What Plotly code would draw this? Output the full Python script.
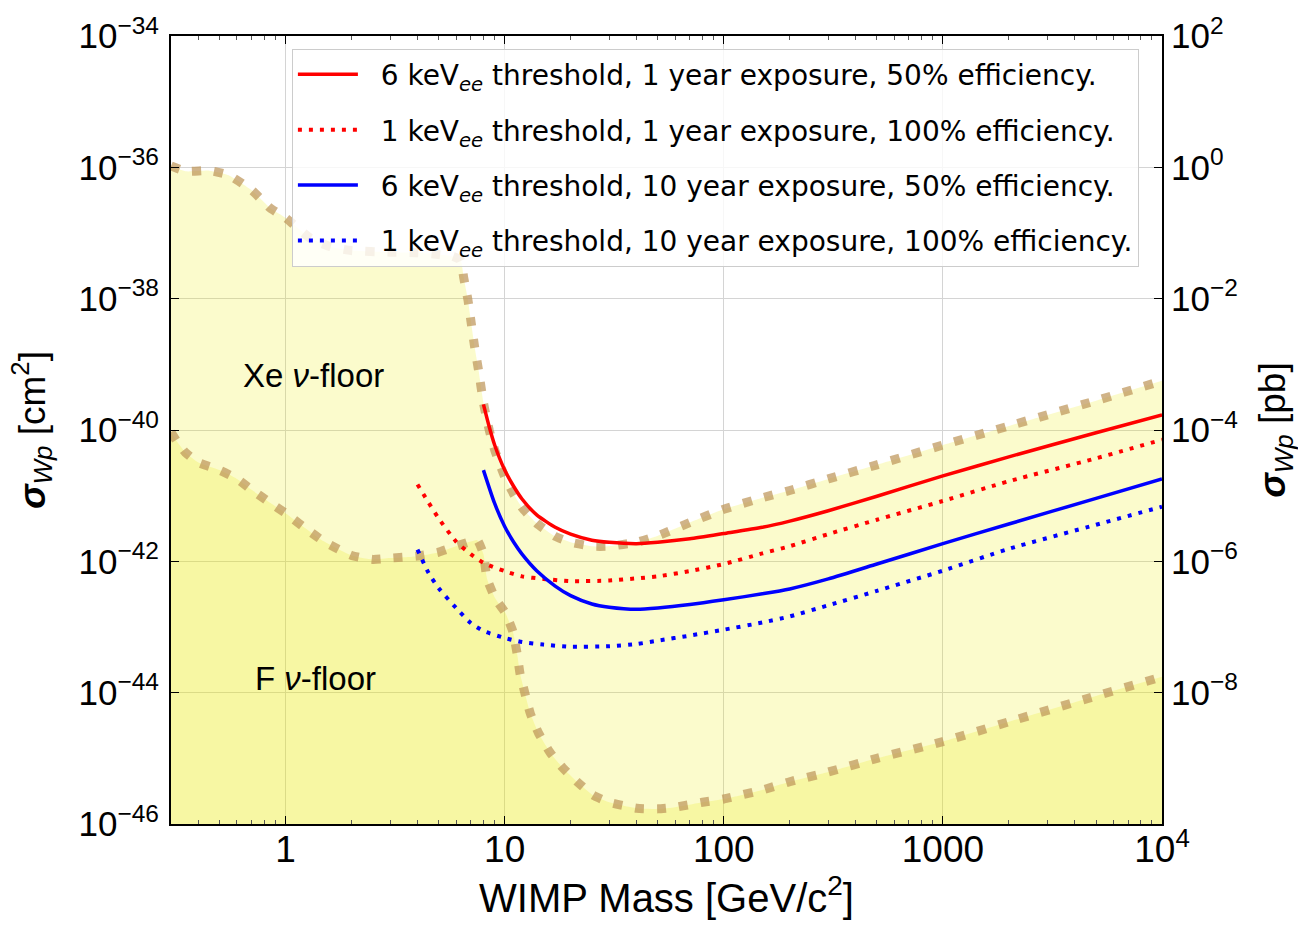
import math
import plotly.graph_objects as go

# ---------------- data (WIMP mass in GeV/c^2, cross-section in cm^2) ----------------
xe_floor_mass = [0.3, 0.35, 0.45, 0.55, 0.7, 0.85, 1, 1.3, 1.6, 2, 3, 4, 5, 5.8, 6.3, 6.5, 6.8, 7,
                 7.3, 7.6, 8, 8.5, 9, 10, 11, 12, 14, 17, 20, 25, 30, 40, 50, 70, 100, 150, 200,
                 300, 500, 1000, 2000, 5000, 10000]
xe_floor_sigma = [1.05e-36, 8.7e-37, 8.9e-37, 7.6e-37, 4.5e-37, 2.4e-37, 1.7e-37, 8.3e-38, 6.2e-38,
                  5.4e-38, 5.1e-38, 5.0e-38, 4.7e-38, 4.4e-38, 3.8e-38, 2.1e-38, 9.5e-39, 4.8e-39,
                  1.8e-39, 8.1e-40, 2.6e-40, 1.0e-40, 5.0e-41, 1.95e-41, 1.05e-41, 6.6e-42, 3.8e-42,
                  2.4e-42, 1.95e-42, 1.7e-42, 1.7e-42, 1.95e-42, 2.45e-42, 3.9e-42, 6.2e-42, 9.3e-42,
                  1.2e-41, 1.8e-41, 2.95e-41, 5.9e-41, 1.15e-40, 2.8e-40, 5.6e-40]

f_floor_mass = [0.3, 0.32, 0.35, 0.4, 0.5, 0.6, 0.7, 0.85, 1, 1.2, 1.5, 2, 2.5, 3, 4, 5, 6, 7, 7.5,
                8, 8.3, 9.05, 10.05, 10.9, 11.4, 11.75, 12.4, 13.1, 14.3, 16.1, 18.4, 21.4, 25.3,
                30, 40, 50, 60, 80, 100, 150, 200, 300, 500, 1000, 2000, 5000, 10000]
f_floor_sigma = [9.3e-41, 6.6e-41, 4.5e-41, 3.2e-41, 2.45e-41, 1.8e-41, 1.23e-41, 7.8e-42, 5.4e-42,
                 3.4e-42, 2.0e-42, 1.23e-42, 1.07e-42, 1.12e-42, 1.2e-42, 1.38e-42, 1.7e-42, 2.0e-42,
                 2.1e-42, 1.29e-42, 5.5e-43, 2.75e-43, 1.66e-43, 8.5e-44, 3.9e-44, 1.95e-44, 9.5e-45,
                 4.8e-45, 2.4e-45, 1.23e-45, 7.2e-46, 4.4e-46, 2.75e-46, 2.14e-46, 1.74e-46, 1.7e-46,
                 1.8e-46, 2.14e-46, 2.4e-46, 3.3e-46, 4.4e-46, 6.2e-46, 1.0e-45, 1.8e-45, 3.6e-45,
                 8.9e-45, 1.74e-44]

red_solid_mass = [8, 8.5, 9, 10, 11, 12, 14, 17, 20, 25, 30, 40, 50, 70, 100, 150, 200, 300, 500,
                  1000, 2000, 5000, 10000]
red_solid_sigma = [2.45e-40, 1.12e-40, 5.9e-41, 2.45e-41, 1.38e-41, 8.9e-42, 5.1e-42, 3.3e-42, 2.6e-42,
                   2.1e-42, 1.95e-42, 1.86e-42, 1.95e-42, 2.2e-42, 2.65e-42, 3.3e-42, 4.1e-42, 5.9e-42,
                   9.8e-42, 2.0e-41, 3.9e-41, 9.1e-41, 1.7e-40]

red_dot_mass = [4, 4.5, 5, 6, 7, 8, 10, 12, 15, 20, 30, 40, 50, 70, 100, 150, 200, 300, 500, 1000,
                2000, 5000, 10000]
red_dot_sigma = [1.48e-41, 7.8e-42, 4.5e-42, 2.0e-42, 1.29e-42, 9.5e-43, 7.1e-43, 5.9e-43, 5.4e-43,
                 5.0e-43, 5.1e-43, 5.5e-43, 5.9e-43, 7.1e-43, 9.1e-43, 1.32e-42, 1.7e-42, 2.6e-42,
                 4.3e-42, 8.3e-42, 1.66e-41, 3.7e-41, 7.1e-41]

blue_solid_mass = [8, 9, 10, 11, 12, 14, 17, 20, 25, 30, 40, 50, 70, 100, 150, 200, 300, 500, 1000,
                   2000, 5000, 10000]
blue_solid_sigma = [2.45e-41, 7.6e-42, 3.4e-42, 1.95e-42, 1.29e-42, 7.2e-43, 4.2e-43, 3.0e-43, 2.24e-43,
                    2.0e-43, 1.86e-43, 1.95e-43, 2.2e-43, 2.6e-43, 3.2e-43, 3.8e-43, 5.4e-43, 9.1e-43,
                    1.86e-42, 3.7e-42, 9.1e-42, 1.8e-41]

blue_dot_mass = [4, 4.5, 5, 6, 7, 8, 10, 12, 15, 20, 30, 40, 50, 70, 100, 150, 200, 300, 500, 1000,
                 2000, 5000, 10000]
blue_dot_sigma = [1.51e-42, 6.6e-43, 3.9e-43, 1.95e-43, 1.15e-43, 8.7e-44, 6.8e-44, 5.9e-44, 5.4e-44,
                  5.0e-44, 5.1e-44, 5.5e-44, 6.2e-44, 7.4e-44, 9.1e-44, 1.17e-43, 1.45e-43, 2.14e-43,
                  3.55e-43, 7.2e-43, 1.55e-42, 3.6e-42, 6.8e-42]

legend_labels = [
    "6 keV<sub><i>ee</i></sub> threshold, 1 year exposure, 50% efficiency.",
    "1 keV<sub><i>ee</i></sub> threshold, 1 year exposure, 100% efficiency.",
    "6 keV<sub><i>ee</i></sub> threshold, 10 year exposure, 50% efficiency.",
    "1 keV<sub><i>ee</i></sub> threshold, 10 year exposure, 100% efficiency.",
]

x_tick_vals = [1, 10, 100, 1000, 10000]
x_tick_text = ["1", "10", "100", "1000", "10<sup>4</sup>"]
y_tick_vals = [1e-46, 1e-44, 1e-42, 1e-40, 1e-38, 1e-36, 1e-34]
y_tick_text = ["10<sup>−46</sup>", "10<sup>−44</sup>", "10<sup>−42</sup>", "10<sup>−40</sup>",
               "10<sup>−38</sup>", "10<sup>−36</sup>", "10<sup>−34</sup>"]
y2_tick_vals = [1e-8, 1e-6, 1e-4, 1e-2, 1e0, 1e2]
y2_tick_text = ["10<sup>−8</sup>", "10<sup>−6</sup>", "10<sup>−4</sup>", "10<sup>−2</sup>",
                "10<sup>0</sup>", "10<sup>2</sup>"]

# ---------------- styles ----------------
FONT = "Liberation Sans, Arial, sans-serif"
FILL = "rgba(235,235,0,0.2)"
FLOOR_LINE = "rgba(190,150,90,0.72)"

fig = go.Figure()

# floor fills
for xs, ys in [(xe_floor_mass, xe_floor_sigma), (f_floor_mass, f_floor_sigma)]:
    fig.add_trace(go.Scatter(x=xs, y=ys, mode="lines", fill="tozeroy", fillcolor=FILL,
                             line=dict(width=0, shape="spline", smoothing=0.5),
                             showlegend=False, hoverinfo="skip"))
# floor boundaries
for xs, ys in [(xe_floor_mass, xe_floor_sigma), (f_floor_mass, f_floor_sigma)]:
    fig.add_trace(go.Scatter(x=xs, y=ys, mode="lines",
                             line=dict(color=FLOOR_LINE, width=9, dash="9px,13px",
                                       shape="spline", smoothing=0.5),
                             showlegend=False, hoverinfo="skip"))

curves = [
    (red_solid_mass, red_solid_sigma, "red", "solid", 3.5),
    (red_dot_mass, red_dot_sigma, "red", "4px,7px", 4),
    (blue_solid_mass, blue_solid_sigma, "blue", "solid", 3.5),
    (blue_dot_mass, blue_dot_sigma, "blue", "4px,7px", 4),
]
for i, (xs, ys, col, dash, w) in enumerate(curves):
    fig.add_trace(go.Scatter(x=xs, y=ys, mode="lines", name="&nbsp;&nbsp;" + legend_labels[i],
                             legendgroup=f"g{i}",
                             line=dict(color=col, width=w, dash=dash, shape="spline", smoothing=0.6)))

# empty trace to activate the right-hand axis
fig.add_trace(go.Scatter(x=[], y=[], yaxis="y2", showlegend=False, hoverinfo="skip"))

minor_x = [m * 10 ** d for d in range(-1, 4) for m in range(2, 10)]

fig.update_layout(
    width=1298, height=927,
    margin=dict(l=171, r=136, t=32, b=103),
    plot_bgcolor="white", paper_bgcolor="white",
    font=dict(family=FONT, color="black"),
    legend=dict(x=0.122, y=0.984, xanchor="left", yanchor="top",
                bgcolor="rgba(255,255,255,0.82)", bordercolor="#cccccc", borderwidth=1,
                font=dict(family="DejaVu Sans", size=28, color="black"),
                tracegroupgap=16, itemwidth=60),
    xaxis=dict(type="log", range=[math.log10(0.3), 4], tickmode="array",
               tickvals=x_tick_vals, ticktext=x_tick_text,
               ticks="inside", ticklen=8, tickwidth=1, tickcolor="black",
               showline=True, linecolor="black", linewidth=2, mirror="ticks",
               showgrid=True, gridcolor="#d4d4d4", gridwidth=1, zeroline=False,
               minor=dict(tickmode="array", tickvals=minor_x, ticks="inside", ticklen=4,
                          tickcolor="#555555", showgrid=False),
               tickfont=dict(family=FONT, size=37), ticklabelstandoff=-8,
               title=dict(text="WIMP Mass [GeV/c<sup>2</sup>]",
                          font=dict(family=FONT, size=40), standoff=14)),
    yaxis=dict(type="log", range=[-46, -34], tickmode="array",
               tickvals=y_tick_vals, ticktext=y_tick_text,
               ticks="inside", ticklen=8, tickcolor="black",
               showline=True, linecolor="black", linewidth=2, mirror=True,
               showgrid=True, gridcolor="#d4d4d4", gridwidth=1, zeroline=False,
               tickfont=dict(family=FONT, size=35), ticklabelstandoff=3,
               title=dict(text="<b><i>σ</i></b><sub><i>Wp</i></sub> [cm<sup>2</sup>]",
                          font=dict(family=FONT, size=37), standoff=22)),
    yaxis2=dict(type="log", range=[-10, 2], overlaying="y", side="right", tickmode="array",
                tickvals=y2_tick_vals, ticktext=y2_tick_text,
                ticks="inside", ticklen=8, tickcolor="black",
                showline=False, showgrid=False, zeroline=False,
                tickfont=dict(family=FONT, size=35), ticklabelstandoff=8,
                title=dict(text="<b><i>σ</i></b><sub><i>Wp</i></sub> [pb]",
                           font=dict(family=FONT, size=37), standoff=22)),
    annotations=[
        dict(x=math.log10(1.34), y=-39.17, xref="x", yref="y", text="Xe <i>ν</i>-floor",
             showarrow=False, font=dict(family=FONT, size=33, color="black")),
        dict(x=math.log10(1.37), y=-43.79, xref="x", yref="y", text="F <i>ν</i>-floor",
             showarrow=False, font=dict(family=FONT, size=33, color="black")),
    ],
)

fig.write_html("out.html")
